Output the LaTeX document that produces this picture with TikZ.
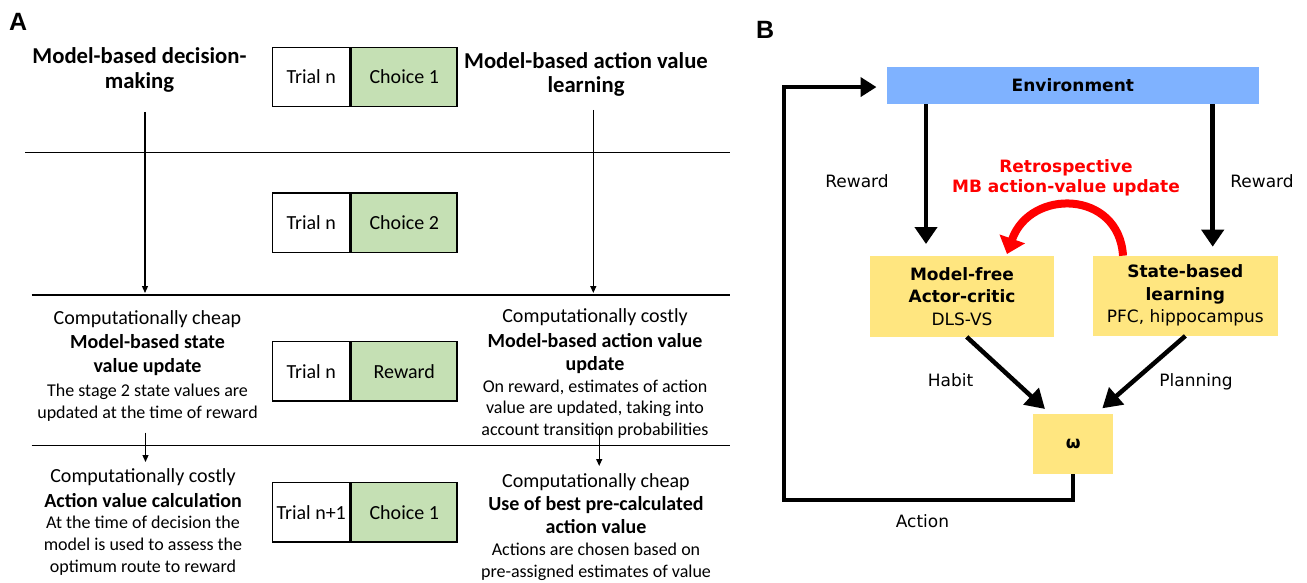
\documentclass[tikz,border=0pt]{standalone}
\usepackage{fontspec}
\setmainfont{Carlito}
\newfontfamily\verd{DejaVu Sans}
\newfontfamily\labelfont{Liberation Sans}
\usetikzlibrary{arrows.meta}

\definecolor{boxgreen}{HTML}{C5E0B4}
\definecolor{envblue}{HTML}{7FB2FF}
\definecolor{boxyellow}{HTML}{FFE680}
\definecolor{mbred}{HTML}{FF0000}

\tikzset{
  % panel A
  sepline/.style={line width=1.6pt},
  thinarrow/.style={line width=1.2pt, -{Triangle[length=7pt,width=6pt]}},
  trialbox/.style={draw, line width=1.4pt, minimum width=77.6pt, minimum height=59.4pt,
                   inner sep=0pt, anchor=west, font=\fontsize{20}{24}\selectfont},
  choicebox/.style={trialbox, fill=boxgreen, minimum width=105.7pt},
  ln/.style={anchor=base, inner sep=0pt},
  headA/.style={ln, font=\fontsize{22.7}{27}\selectfont\bfseries},
  costA/.style={ln, font=\fontsize{20}{24}\selectfont},
  boldA/.style={ln, font=\fontsize{20}{24}\selectfont\bfseries},
  descA/.style={ln, font=\fontsize{18}{22}\selectfont},
  panellabel/.style={anchor=base west, inner sep=0pt, font=\labelfont\fontsize{25}{30}\selectfont\bfseries},
  % panel B
  envbox/.style={fill=envblue, minimum width=372.3pt, minimum height=37.3pt, inner sep=0pt,
                 font=\verd\fontsize{17}{21}\selectfont\bfseries},
  ybox/.style={fill=boxyellow, inner sep=0pt, align=center,
               font=\verd\fontsize{17}{22.5}\selectfont},
  lblB/.style={ln, font=\verd\fontsize{17}{21}\selectfont},
  redlbl/.style={ln, text=mbred, font=\verd\fontsize{17}{21}\selectfont\bfseries},
  bigarrow/.style={line width=4.5pt, -{Triangle[length=17pt,width=22pt]}},
  redarrow/.style={line width=8pt, draw=mbred, -{Triangle[length=16pt,width=26pt]}},
}

\begin{document}
\begin{tikzpicture}[x=1pt, y=-1pt]
\useasboundingbox (0,0) rectangle (1307,583);

% ---------------- Panel A ----------------
\node[panellabel] (labA) at (9,31) {A};

% column headings
\node[headA] (hl1) at (139.5,64) {Model-based decision-};
\node[headA] (hl2) at (139.5,89) {making};
\node[headA] (hr1) at (586,69) {Model-based action value};
\node[headA] (hr2) at (586,93) {learning};

% trial event boxes
\node[trialbox] (t1) at (271.7,77) {Trial n};
\node[choicebox] (c1) at (t1.east) {Choice 1};
\node[trialbox] (t2) at (271.7,222.8) {Trial n};
\node[choicebox] (c2) at (t2.east) {Choice 2};
\node[trialbox] (t3) at (271.7,371.2) {Trial n};
\node[choicebox] (c3) at (t3.east) {Reward};
\node[trialbox] (t4) at (271.7,512.2) {Trial n+1};
\node[choicebox] (c4) at (t4.east) {Choice 1};

% separators between trial stages
\draw[sepline] (25,152.7) -- (730,152.7);
\draw[sepline] (31.7,295) -- (730,295);
\draw[sepline] (31.7,445.3) -- (730,445.3);

% timeline arrows
\coordinate (la0) at (145,112);
\coordinate (la1) at (145,293);
\coordinate (ra0) at (593.3,110);
\coordinate (ra1) at (593.3,293);
\coordinate (lb0) at (145.5,432.7);
\coordinate (lb1) at (145.5,462);
\coordinate (rb0) at (599.2,429.3);
\coordinate (rb1) at (599.2,466);
\draw[thinarrow] (la0) -- (la1);
\draw[thinarrow] (ra0) -- (ra1);
\draw[thinarrow] (lb0) -- (lb1);
\draw[thinarrow] (rb0) -- (rb1);

% left column, reward stage
\node[costA] (l1) at (147.5,324) {Computationally cheap};
\node[boldA] (l2) at (147.5,348) {Model-based state};
\node[boldA] (l3) at (147.5,372) {value update};
\node[descA] (l4) at (147.5,396) {The stage 2 state values are};
\node[descA] (l5) at (147.5,418) {updated at the time of reward};

% left column, next trial
\node[costA] (l6) at (143,482) {Computationally costly};
\node[boldA] (l7) at (143,507) {Action value calculation};
\node[descA] (l8) at (143,528) {At the time of decision the};
\node[descA] (l9) at (143,550) {model is used to assess the};
\node[descA] (l10) at (143,572) {optimum route to reward};

% right column, reward stage
\node[costA] (r1) at (595,322) {Computationally costly};
\node[boldA] (r2) at (595,347) {Model-based action value};
\node[boldA] (r3) at (595,370) {update};
\node[descA] (r4) at (595,392) {On reward, estimates of action};
\node[descA] (r5) at (595,413) {value are updated, taking into};
\node[descA] (r6) at (595,435) {account transition probabilities};

% right column, next trial
\node[costA] (r7) at (596,487) {Computationally cheap};
\node[boldA] (r8) at (596,510.5) {Use of best pre-calculated};
\node[boldA] (r9) at (596,533) {action value};
\node[descA] (r10) at (596,555) {Actions are chosen based on};
\node[descA] (r11) at (596,577) {pre-assigned estimates of value};

% ---------------- Panel B ----------------
\node[panellabel] (labB) at (756,39) {B};

\node[envbox] (env) at (1072.85,85.35) {Environment};
\node[ybox, minimum width=184pt, minimum height=80.7pt] (mf) at (962,296.35)
  {\textbf{Model-free}\\\textbf{Actor-critic}\\DLS-VS};
\node[ybox, minimum width=184.7pt, minimum height=80pt] (sb) at (1185.35,295.7)
  {\textbf{State-based}\\\textbf{learning}\\PFC, hippocampus};
\node[ybox, minimum width=80pt, minimum height=59.7pt, font=\verd\fontsize{17}{21}\selectfont\bfseries] (om) at (1073.3,444.15) {ω};

% reward inputs
\coordinate (rwl) at (926,244);
\coordinate (rwr) at (1212.7,246.7);
\draw[bigarrow] (env.south -| rwl) -- (rwl);
\draw[bigarrow] (env.south -| rwr) -- (rwr);
\node[lblB] (rewl) at (857,187) {Reward};
\node[lblB] (rewr) at (1262,188) {Reward};

% retrospective update
\node[redlbl] (ret1) at (1066,172) {Retrospective};
\node[redlbl] (ret2) at (1066,193) {MB action-value update};
\coordinate (rs) at (1123,255.7);
\coordinate (re) at (1007,254);
\draw[redarrow] (rs) .. controls (1119,190) and (1030,188) .. (re);

% arbitration
\coordinate (hbt) at (1045,409);
\coordinate (pln) at (1102.3,408.3);
\draw[bigarrow, -{Triangle[length=19pt,width=22pt]}] ([xshift=4.7pt]mf.south) -- (hbt);
\draw[bigarrow, -{Triangle[length=19pt,width=22pt]}] (sb.south) -- (pln);
\node[lblB] (habit) at (950.5,386) {Habit};
\node[lblB] (plan) at (1196,386) {Planning};

% action loop back to the environment
\draw[line width=4pt, line join=miter, -{Triangle[length=16pt,width=19pt]}, shorten >=10pt]
  (om.south) -- ++(0,26) -| ([xshift=-102.7pt,yshift=-1.7pt]env.west) -- ([yshift=-1.7pt]env.west);
\node[lblB] (act) at (922.5,527) {Action};

\end{tikzpicture}
\end{document}
